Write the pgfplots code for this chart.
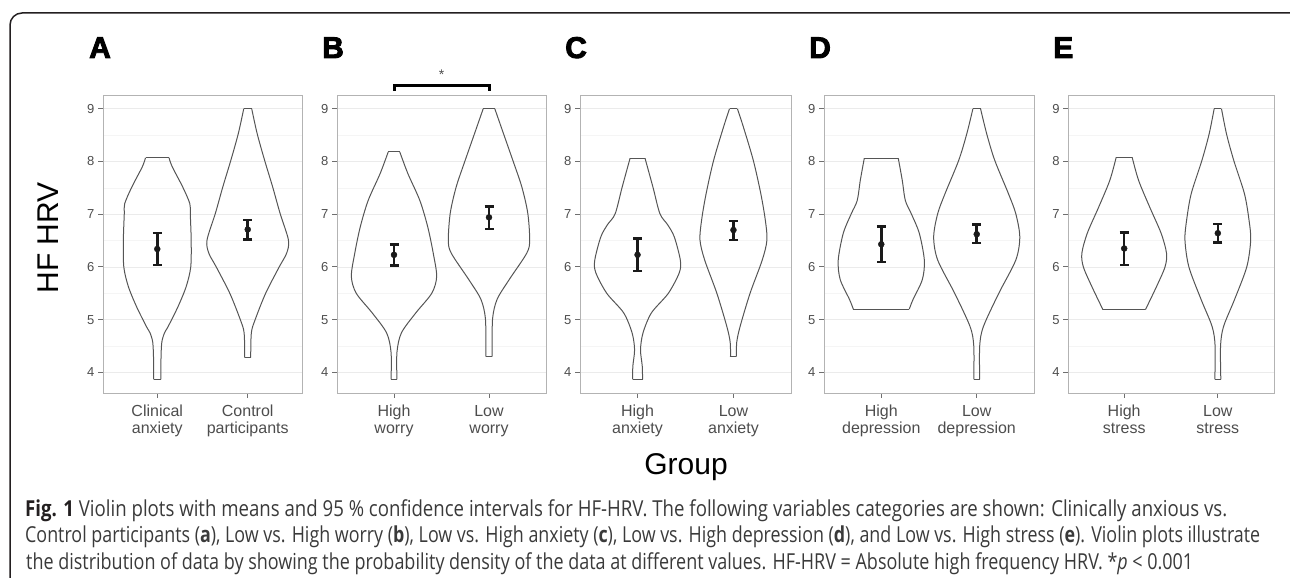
\documentclass[border=0pt]{standalone}
\usepackage{graphicx}
\usepackage{fontspec}
\setmainfont{Liberation Sans}
\newfontfamily\capfont{Open Sans}[FakeStretch=0.84]
\newfontfamily\panelfont{Liberation Sans Bold}[FakeBold=3]
\usepackage{pgfplots}
\usepackage{pgfplotstable}
\pgfplotsset{compat=1.18}
\definecolor{gridmaj}{HTML}{EBEBEB}
\definecolor{gridmin}{HTML}{F5F5F5}
\definecolor{border}{HTML}{B3B3B3}
\definecolor{tickc}{HTML}{6F6F6F}
\definecolor{labc}{HTML}{4D4D4D}
\definecolor{vcol}{HTML}{555555}
\definecolor{ebc}{HTML}{1A1A1A}
\definecolor{framec}{HTML}{231F20}
\definecolor{capc}{HTML}{3A3A3A}

% violin outlines: y = HF HRV value, w = half width (category units)
\pgfplotstableread{
y w
3.87 0.041
4.25 0.041
4.57 0.050
4.75 0.080
4.87 0.120
5.25 0.230
5.63 0.320
6.00 0.370
6.50 0.375
7.00 0.365
7.20 0.360
7.52 0.280
7.90 0.165
8.07 0.130
}\vAone
\pgfplotstableread{
y w
4.28 0.033
4.75 0.040
5.00 0.082
5.50 0.198
6.00 0.348
6.26 0.430
6.51 0.450
7.02 0.357
7.52 0.275
8.02 0.187
8.53 0.104
9.00 0.044
}\vAtwo
\pgfplotstableread{
y w
3.87 0.031
4.38 0.031
4.75 0.078
5.13 0.230
5.50 0.397
5.82 0.449
6.26 0.413
6.76 0.355
7.26 0.272
7.77 0.146
8.18 0.061
}\vBone
\pgfplotstableread{
y w
4.30 0.034
5.00 0.037
5.38 0.084
5.75 0.209
6.26 0.397
6.51 0.428
7.02 0.408
7.52 0.345
8.02 0.251
8.53 0.152
9.00 0.061
}\vBtwo
\pgfplotstableread{
y w
3.87 0.052
4.12 0.049
4.43 0.031
4.75 0.057
5.13 0.145
5.50 0.321
5.89 0.435
6.13 0.446
6.57 0.383
6.80 0.314
7.01 0.233
7.51 0.161
8.06 0.078
}\vCone
\pgfplotstableread{
y w
4.30 0.031
4.57 0.034
4.87 0.069
5.50 0.173
6.13 0.300
6.51 0.349
6.89 0.332
7.39 0.285
8.02 0.207
8.65 0.104
9.00 0.041
}\vCtwo
\pgfplotstableread{
y w
5.20 0.293
5.38 0.332
5.76 0.430
6.13 0.451
6.64 0.398
7.01 0.314
7.26 0.252
7.64 0.220
8.06 0.178
}\vDone
\pgfplotstableread{
y w
3.87 0.031
4.50 0.031
4.87 0.070
5.50 0.231
6.13 0.409
6.57 0.451
7.01 0.409
7.39 0.332
8.02 0.189
8.52 0.105
9.00 0.040
}\vDtwo
\pgfplotstableread{
y w
5.19 0.227
5.63 0.346
6.00 0.436
6.26 0.452
6.64 0.394
7.14 0.271
7.64 0.154
8.08 0.085
}\vEone
\pgfplotstableread{
y w
3.87 0.032
4.50 0.029
4.87 0.061
5.38 0.178
6.00 0.309
6.51 0.351
6.89 0.333
7.39 0.284
8.02 0.170
8.52 0.093
9.00 0.039
}\vEtwo

\pgfplotsset{
  vp/.style={
    scale only axis, height=298pt, anchor=south west,
    xmin=0.4, xmax=2.6, ymin=3.61, ymax=9.26,
    xtick={1,2}, ytick={4,5,6,7,8,9}, yticklabels={4,5,6,7,8,9},
    minor ytick={4.5,5.5,6.5,7.5,8.5},
    ymajorgrids, yminorgrids,
    major grid style={draw=gridmaj, line width=0.8pt},
    minor grid style={draw=gridmin, line width=0.6pt},
    axis line style={draw=border, line width=0.9pt},
    tick style={draw=tickc, line width=0.9pt},
    major tick length=5pt, minor tick length=0pt,
    tick align=outside, xtick pos=bottom, ytick pos=left,
    yticklabel style={font=\fontsize{13}{13}\selectfont, text=labc},
    xticklabel style={font=\fontsize{16}{17}\selectfont, text=labc, align=center, yshift=-3.5pt},
  },
  vline/.style={draw=vcol, line width=1pt, mark=none},
  eb/.style={ebc, line width=2.5pt, mark=*, mark size=3pt,
    mark options={line width=0.4pt, fill=ebc},
    error bars/.cd, y dir=both, y explicit, error mark=|,
    error bar style={line width=2.5pt},
    error mark options={line width=2.5pt, mark size=4.5pt}},
}
\newcommand{\violin}[2]{%
  \addplot[vline, smooth] table[x expr=#2+\thisrow{w}, y=y]{#1};
  \addplot[vline, smooth] table[x expr=#2-\thisrow{w}, y=y]{#1};
}

\begin{document}
\begin{tikzpicture}
\draw[framec, line width=1.5pt, rounded corners=12pt] (10pt,-30pt) -- (10pt,565pt) -- (1310pt,565pt) -- (1310pt,-30pt);

% Panel A
\begin{axis}[vp, at={(103pt,185pt)}, width=199pt,
  xticklabels={{Clinical\\anxiety},{Control\\participants}}]
\violin{\vAone}{1}
\addplot[vline] coordinates {(0.959,3.87) (1.041,3.87)};
\addplot[vline] coordinates {(0.870,8.07) (1.130,8.07)};
\violin{\vAtwo}{2}
\addplot[vline] coordinates {(1.967,4.28) (2.033,4.28)};
\addplot[vline] coordinates {(1.956,9.00) (2.044,9.00)};
\addplot[eb] coordinates {(1,6.34) += (0,0.30) -= (0,0.30)};
\addplot[eb] coordinates {(2,6.71) += (0,0.18) -= (0,0.19)};
\end{axis}

% Panel B
\begin{axis}[vp, at={(337pt,185pt)}, width=209pt, clip=false,
  xticklabels={{High\\worry},{Low\\worry}}]
\violin{\vBone}{1}
\addplot[vline] coordinates {(0.969,3.87) (1.031,3.87)};
\addplot[vline] coordinates {(0.939,8.18) (1.061,8.18)};
\violin{\vBtwo}{2}
\addplot[vline] coordinates {(1.966,4.30) (2.034,4.30)};
\addplot[vline] coordinates {(1.939,9.00) (2.061,9.00)};
\addplot[eb] coordinates {(1,6.23) += (0,0.20) -= (0,0.20)};
\addplot[eb] coordinates {(2,6.94) += (0,0.21) -= (0,0.22)};
\draw[black, line width=3pt] (axis cs:1,9.34) -- (axis cs:1,9.44) -- (axis cs:2,9.44) -- (axis cs:2,9.34);
\node[font=\fontsize{14}{14}\selectfont, text=labc] at (axis cs:1.5,9.64) {*};
\end{axis}

% Panel C
\begin{axis}[vp, at={(580pt,185pt)}, width=211pt,
  xticklabels={{High\\anxiety},{Low\\anxiety}}]
\violin{\vCone}{1}
\addplot[vline] coordinates {(0.948,3.87) (1.052,3.87)};
\addplot[vline] coordinates {(0.922,8.06) (1.078,8.06)};
\violin{\vCtwo}{2}
\addplot[vline] coordinates {(1.969,4.30) (2.031,4.30)};
\addplot[vline] coordinates {(1.959,9.00) (2.041,9.00)};
\addplot[eb] coordinates {(1,6.23) += (0,0.31) -= (0,0.31)};
\addplot[eb] coordinates {(2,6.70) += (0,0.17) -= (0,0.19)};
\end{axis}

% Panel D
\begin{axis}[vp, at={(824pt,185pt)}, width=210pt,
  xticklabels={{High\\depression},{Low\\depression}}]
\violin{\vDone}{1}
\addplot[vline] coordinates {(0.707,5.20) (1.293,5.20)};
\addplot[vline] coordinates {(0.822,8.06) (1.178,8.06)};
\violin{\vDtwo}{2}
\addplot[vline] coordinates {(1.969,3.87) (2.031,3.87)};
\addplot[vline] coordinates {(1.960,9.00) (2.040,9.00)};
\addplot[eb] coordinates {(1,6.43) += (0,0.34) -= (0,0.34)};
\addplot[eb] coordinates {(2,6.62) += (0,0.18) -= (0,0.17)};
\end{axis}

% Panel E
\begin{axis}[vp, at={(1068pt,185pt)}, width=206pt,
  xticklabels={{High\\stress},{Low\\stress}}]
\violin{\vEone}{1}
\addplot[vline] coordinates {(0.773,5.19) (1.227,5.19)};
\addplot[vline] coordinates {(0.915,8.08) (1.085,8.08)};
\violin{\vEtwo}{2}
\addplot[vline] coordinates {(1.968,3.87) (2.032,3.87)};
\addplot[vline] coordinates {(1.961,9.00) (2.039,9.00)};
\addplot[eb] coordinates {(1,6.35) += (0,0.30) -= (0,0.31)};
\addplot[eb] coordinates {(2,6.64) += (0,0.17) -= (0,0.18)};
\end{axis}

% panel letters
\foreach \L/\X in {A/89, B/322, C/565, D/809, E/1053}{
  \node[anchor=base west, inner sep=0pt, text=black] at (\X pt,520pt) {\panelfont\fontsize{30}{30}\selectfont \L};
}
% axis titles
\node[rotate=90, anchor=base, inner sep=0pt, text=black] at (58pt,340pt) {\fontsize{30}{30}\selectfont HF HRV};
\node[anchor=base, inner sep=0pt, text=black] at (686pt,103pt) {\fontsize{30}{30}\selectfont Group};

% caption
\begin{scope}[every node/.style={anchor=base west, inner sep=0pt, text=capc, font=\capfont\fontsize{22}{22}\selectfont}]
\node at (25pt,61.3pt) {\resizebox{1202pt}{\height}{\textbf{\color{framec}Fig. 1} Violin plots with means and 95 \% confidence intervals for HF-HRV. The following variables categories are shown: Clinically anxious vs.}};
\node at (25pt,35.7pt) {\resizebox{1235pt}{\height}{Control participants (\textbf{a}), Low vs. High worry (\textbf{b}), Low vs. High anxiety (\textbf{c}), Low vs. High depression (\textbf{d}), and Low vs. High stress (\textbf{e}). Violin plots illustrate}};
\node at (26pt,9pt) {\resizebox{1167pt}{\height}{the distribution of data by showing the probability density of the data at different values. HF-HRV = Absolute high frequency HRV. *\textit{p} < 0.001}};
\end{scope}
\pgfresetboundingbox
\path[use as bounding box] (0,0) rectangle (1290pt,578pt);
\end{tikzpicture}
\end{document}
